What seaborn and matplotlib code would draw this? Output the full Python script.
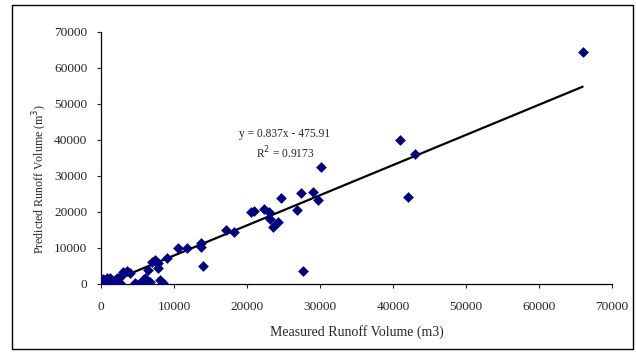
import numpy as np
import pandas as pd
import matplotlib
matplotlib.use("Agg")
import matplotlib.pyplot as plt
import seaborn as sns
from matplotlib.patches import Rectangle

measured = [66000, 41000, 43000, 42000, 30200, 29000, 29700, 27400, 26800, 27700,
            24700, 24200, 23600, 23200, 23000, 22300, 21000, 20500, 18200, 17100,
            13700, 13700, 14000, 11800, 10500, 9000, 7800, 7400, 7000, 6400,
            7800, 8100, 8500, 6700, 6000, 5800, 5300, 4600, 4000, 3500,
            3000, 2900, 2600, 2200, 1500, 1200, 800, 500, 300, 100,
            0, 200, 400, 600, 1000, 1300, 200]
predicted = [64500, 40000, 36100, 24200, 32500, 25600, 23300, 25300, 20600, 3600,
             23900, 17200, 15800, 18000, 20000, 20800, 20300, 20000, 14400, 15000,
             11400, 10300, 5000, 10000, 10000, 7200, 5800, 6700, 6100, 3900,
             4400, 1100, 300, 500, 1700, 1100, 300, 300, 3000, 3600,
             3300, 2500, 300, 1700, 500, 1700, 1700, 300, 1100, 500,
             0, 200, 1200, 800, 400, 1000, 1500]

slope = 0.837
intercept = -475.91
r2 = 0.9173

x_ticks = [0, 10000, 20000, 30000, 40000, 50000, 60000, 70000]
y_ticks = [0, 10000, 20000, 30000, 40000, 50000, 60000, 70000]

df = pd.DataFrame({"measured": measured, "predicted": predicted})

sns.set_style("white")
plt.rcParams["font.family"] = ["Liberation Serif", "DejaVu Serif"]

fig = plt.figure(figsize=(6.36, 3.54), dpi=100)
ax = fig.add_axes([0.159, 0.198, 0.803, 0.712])

sns.scatterplot(data=df, x="measured", y="predicted", marker="D", s=30,
                color="#000080", edgecolor="#000080", linewidth=0, ax=ax, zorder=3)

# droite de tendance
xs = np.array([df["measured"].min(), df["measured"].max()])
sns.lineplot(x=xs, y=slope * xs + intercept, color="black", linewidth=1.6, ax=ax, zorder=2)

ax.set_xlim(0, 70000)
ax.set_ylim(0, 70000)
ax.set_xticks(x_ticks)
ax.set_yticks(y_ticks)
ax.tick_params(axis="both", labelsize=9.6, length=3, width=0.8, direction="out",
               bottom=True, left=True)
ax.xaxis.set_tick_params(pad=9)
ax.yaxis.set_tick_params(pad=7)
for s in ["top", "right"]:
    ax.spines[s].set_visible(False)
for s in ["left", "bottom"]:
    ax.spines[s].set_color("black")
    ax.spines[s].set_linewidth(0.9)

ax.set_xlabel("Measured Runoff Volume (m3)", fontsize=10, labelpad=9)
ax.set_ylabel("Predicted Runoff Volume (m$^3$)", fontsize=8.6)
ax.yaxis.set_label_coords(-0.100, 0.415)

ax.text(25200, 41700, f"y = {slope}x - {abs(intercept)}", fontsize=8.3,
        ha="center", va="center")
ax.text(25200, 36400, f"R$^2$ = {r2}", fontsize=8.3, ha="center", va="center")

fig.patches.append(Rectangle((12 / 636, 5 / 354), 621 / 636, 344 / 354,
                             transform=fig.transFigure, fill=False,
                             edgecolor="black", linewidth=1))

fig.savefig("out.png", dpi=100, facecolor="white")
